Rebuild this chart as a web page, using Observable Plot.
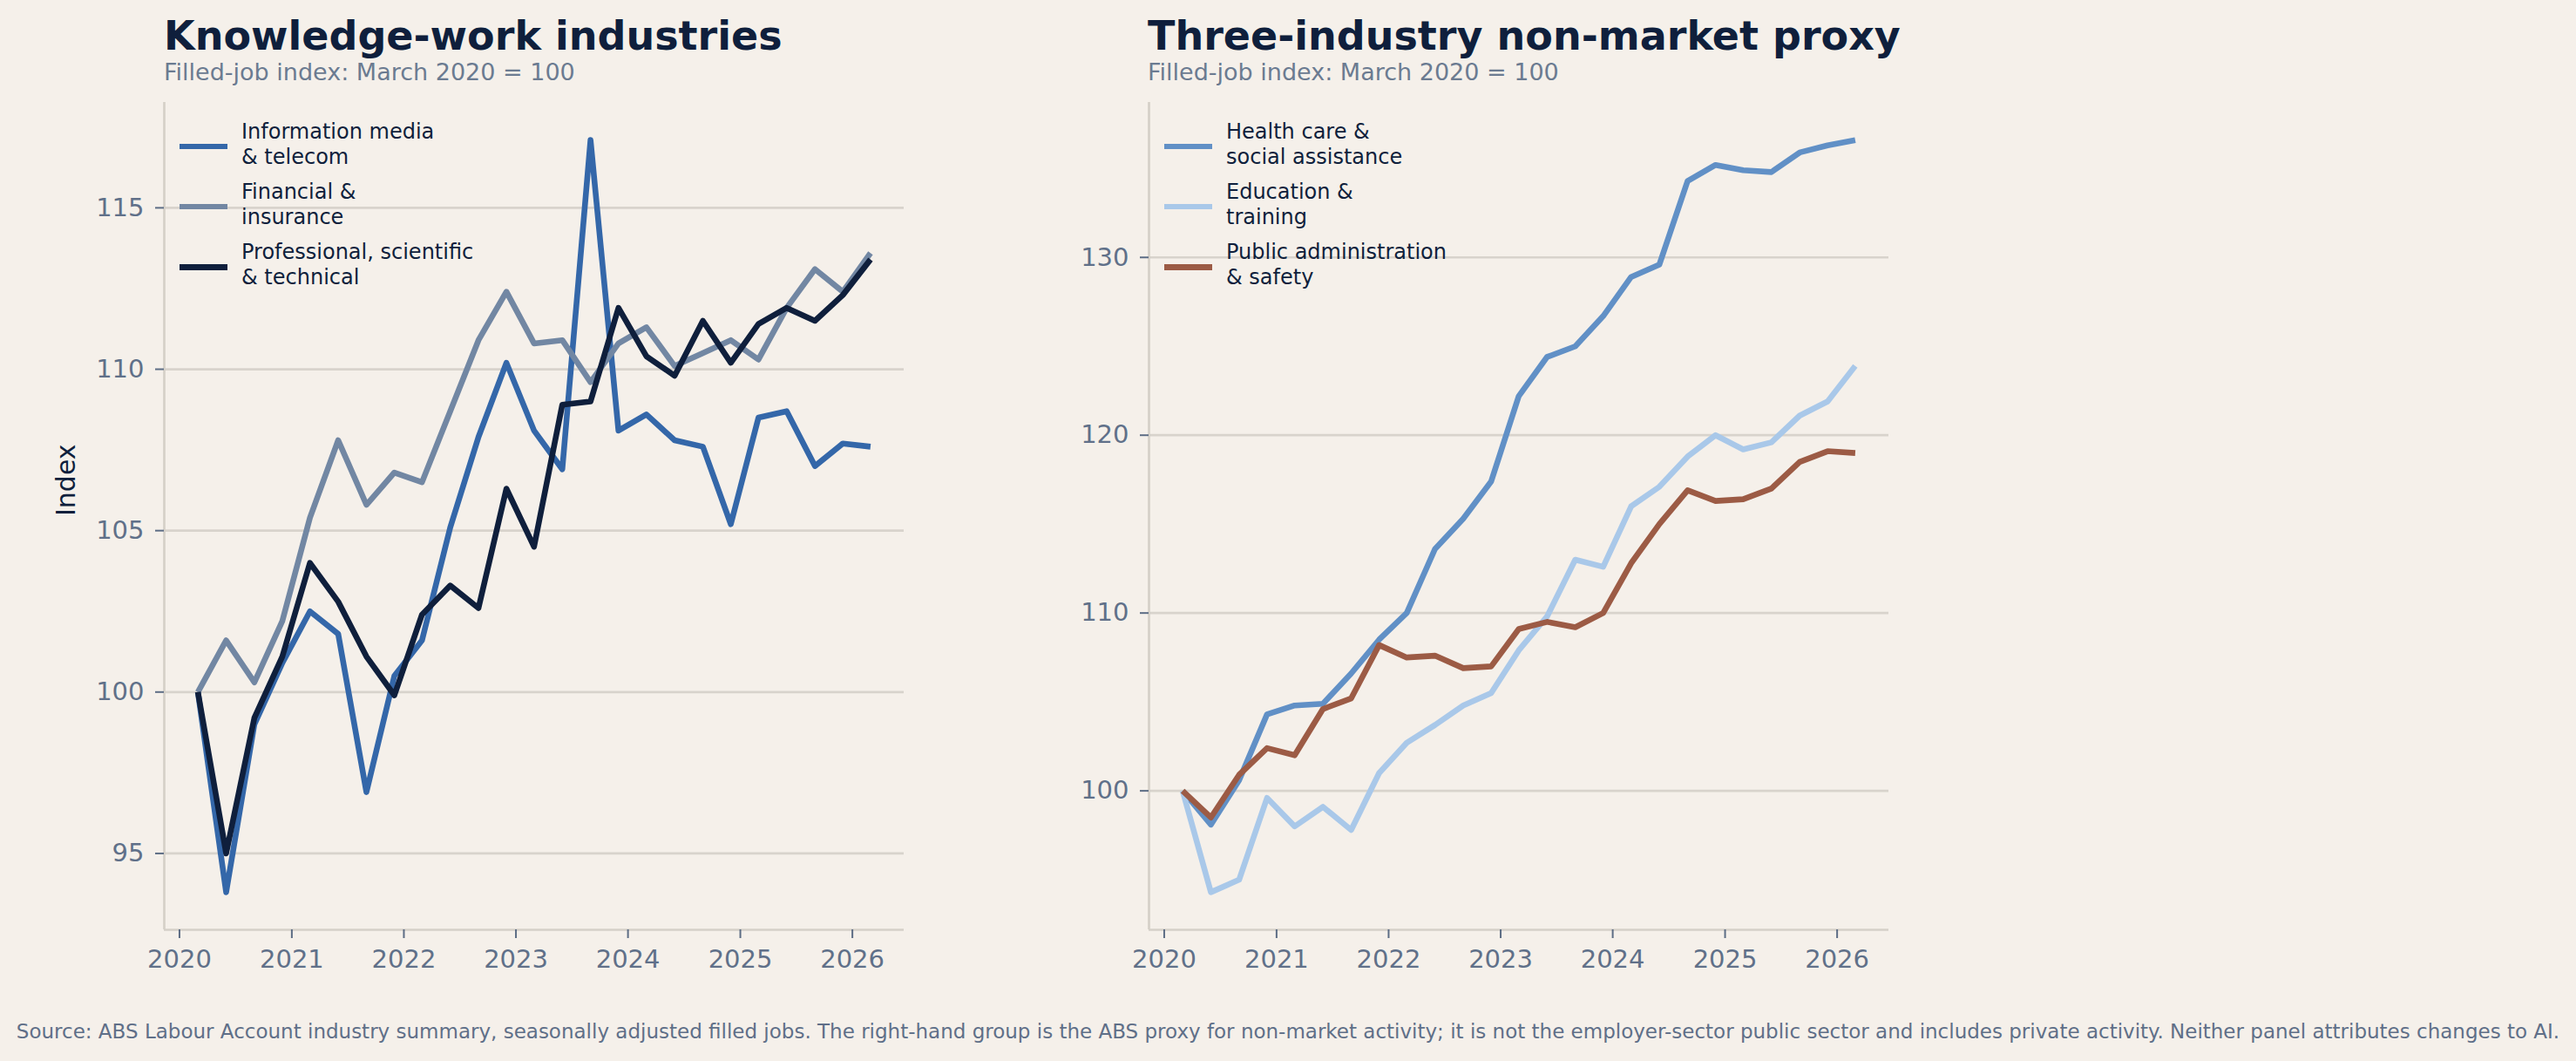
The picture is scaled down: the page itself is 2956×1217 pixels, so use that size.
<!DOCTYPE html>
<html>
<head>
<meta charset="utf-8">
<script src="https://cdn.jsdelivr.net/npm/d3@7"></script>
<script src="https://cdn.jsdelivr.net/npm/@observablehq/plot@0.6"></script>
<style>
  html, body { margin: 0; padding: 0; background: #f5f0ea; }
  #root { position: relative; width: 2956px; height: 1217px; background: #f5f0ea; overflow: hidden; font-family: "DejaVu Sans", sans-serif; }
  .title { position: absolute; font-weight: 700; font-size: 46px; color: #0f1f3c; white-space: nowrap; line-height: normal; }
  .subtitle { position: absolute; font-size: 27px; color: #6b7b91; white-space: nowrap; line-height: normal; }
  .caption { position: absolute; left: 0; width: 2956px; text-align: center; font-size: 23px; color: #5f6f88; white-space: nowrap; line-height: normal; }
  .panel { position: absolute; top: 100px; }
  .legend-swatch { position: absolute; width: 55px; height: 6.5px; }
  .legend-text { position: absolute; font-size: 24px; line-height: 29px; color: #0f1f3c; white-space: nowrap; }
</style>
</head>
<body>
<div id="root"></div>
<script>
// ---- data ----
const quarters = ["2020-03","2020-06","2020-09","2020-12","2021-03","2021-06","2021-09","2021-12",
  "2022-03","2022-06","2022-09","2022-12","2023-03","2023-06","2023-09","2023-12",
  "2024-03","2024-06","2024-09","2024-12","2025-03","2025-06","2025-09","2025-12","2026-03"];
const yearTicks = [2020, 2021, 2022, 2023, 2024, 2025, 2026];

const infoMedia    = [100, 93.8, 99.0, 100.9, 102.5, 101.8, 96.9, 100.5, 101.6, 105.1, 107.9, 110.2, 108.1, 106.9, 117.1, 108.1, 108.6, 107.8, 107.6, 105.2, 108.5, 108.7, 107.0, 107.7, 107.6];
const financial    = [100, 101.6, 100.3, 102.2, 105.4, 107.8, 105.8, 106.8, 106.5, 108.7, 110.9, 112.4, 110.8, 110.9, 109.6, 110.8, 111.3, 110.1, 110.5, 110.9, 110.3, 111.9, 113.1, 112.4, 113.6];
const professional = [100, 95.0, 99.2, 101.1, 104.0, 102.8, 101.1, 99.9, 102.4, 103.3, 102.6, 106.3, 104.5, 108.9, 109.0, 111.9, 110.4, 109.8, 111.5, 110.2, 111.4, 111.9, 111.5, 112.3, 113.4];

const health       = [100, 98.1, 100.6, 104.3, 104.8, 104.9, 106.6, 108.5, 110.0, 113.6, 115.3, 117.4, 122.2, 124.4, 125.0, 126.7, 128.9, 129.6, 134.3, 135.2, 134.9, 134.8, 135.9, 136.3, 136.6];
const education    = [100, 94.3, 95.0, 99.6, 98.0, 99.1, 97.8, 101.0, 102.7, 103.7, 104.8, 105.5, 107.9, 109.8, 113.0, 112.6, 116.0, 117.1, 118.8, 120.0, 119.2, 119.6, 121.1, 121.9, 123.9];
const publicAdmin  = [100, 98.5, 100.9, 102.4, 102.0, 104.6, 105.2, 108.2, 107.5, 107.6, 106.9, 107.0, 109.1, 109.5, 109.2, 110.0, 112.8, 115.0, 116.9, 116.3, 116.4, 117.0, 118.5, 119.1, 119.0];

const leftSeries = [
  {name: "Information media\n& telecom", values: infoMedia, color: "#3467a9"},
  {name: "Financial &\ninsurance", values: financial, color: "#7287a3"},
  {name: "Professional, scientific\n& technical", values: professional, color: "#0f1f3c"}
];
const rightSeries = [
  {name: "Health care &\nsocial assistance", values: health, color: "#6190c6"},
  {name: "Education &\ntraining", values: education, color: "#a9c8e9"},
  {name: "Public administration\n& safety", values: publicAdmin, color: "#9c5b45"}
];
const leftTicksY = [95, 100, 105, 110, 115];
const rightTicksY = [100, 110, 120, 130];

// ---- drawing ----
const root = document.getElementById("root");
const dates = quarters.map(q => new Date(q + "-01T00:00:00Z"));
const xTicks = yearTicks.map(y => new Date(Date.UTC(y, 0, 1)));

function panel(series, yTicks, yLabel) {
  const rows = series.flatMap(s => s.values.map((v, i) => ({date: dates[i], value: v, key: s.name})));
  const vals = rows.map(d => d.value);
  const lo = d3.min(vals), hi = d3.max(vals), pad = (hi - lo) * 0.05;
  const t0 = +dates[0], t1 = +dates[dates.length - 1], tp = (t1 - t0) * 0.05;
  const xMin = new Date(t0 - tp), xMax = new Date(t1 + tp);
  const marks = [
    Plot.gridY(yTicks, {stroke: "#d8d3cc", strokeOpacity: 1, strokeWidth: 2.7}),
    Plot.ruleX([xMin], {stroke: "#d5d0c8", strokeWidth: 2.7}),
    Plot.ruleY([lo - pad], {stroke: "#d5d0c8", strokeWidth: 2.7}),
    Plot.axisY(yTicks, {tickSize: 10, tickPadding: 13, stroke: "#5d6d85", strokeWidth: 2, fill: "#607089", label: null}),
    Plot.axisX(xTicks, {tickSize: 10, tickPadding: 13, stroke: "#5d6d85", strokeWidth: 2, fill: "#607089", tickFormat: d3.utcFormat("%Y"), label: null})
  ];
  if (yLabel) {
    marks.push(Plot.text([yLabel], {text: d => d, frameAnchor: "left", rotate: -90, dx: -112, fill: "#0f1f3c", fontSize: 30}));
  }
  for (const s of series) {
    marks.push(Plot.line(rows.filter(d => d.key === s.name), {x: "date", y: "value", stroke: s.color, strokeWidth: 6.6, strokeLinejoin: "round", strokeLinecap: "butt"}));
  }
  return Plot.plot({
    width: 1100, height: 1060,
    marginLeft: 188, marginRight: 63, marginTop: 17, marginBottom: 94,
    style: {background: "transparent", fontFamily: "DejaVu Sans", fontSize: "29px", color: "#607089", overflow: "visible"},
    x: {type: "utc", domain: [xMin, xMax]},
    y: {domain: [lo - pad, hi + pad]},
    marks
  });
}

function addText(cls, text, left, top) {
  const d = document.createElement("div");
  d.className = cls;
  d.textContent = text;
  d.style.left = left + "px";
  d.style.top = top + "px";
  root.appendChild(d);
  return d;
}

function addLegend(series, offset) {
  series.forEach((s, i) => {
    const top = 136.5 + i * 69.2;
    const sw = document.createElement("div");
    sw.className = "legend-swatch";
    sw.style.background = s.color;
    sw.style.left = (offset + 206) + "px";
    sw.style.top = (top + 31.5 - 3.25) + "px";
    root.appendChild(sw);
    const tx = document.createElement("div");
    tx.className = "legend-text";
    tx.style.left = (offset + 277) + "px";
    tx.style.top = top + "px";
    tx.innerHTML = s.name.split("\n").map(t => t.replace(/&/g, "&amp;")).join("<br>");
    root.appendChild(tx);
  });
}

const p1 = panel(leftSeries, leftTicksY, "Index");
p1.classList.add("panel"); p1.style.left = "0px"; p1.style.position = "absolute"; p1.style.top = "100px";
root.appendChild(p1);
const p2 = panel(rightSeries, rightTicksY, null);
p2.classList.add("panel"); p2.style.left = "1130px"; p2.style.position = "absolute"; p2.style.top = "100px";
root.appendChild(p2);

addText("title", "Knowledge-work industries", 188, 14);
addText("subtitle", "Filled-job index: March 2020 = 100", 188, 66.5);
addText("title", "Three-industry non-market proxy", 1317, 14);
addText("subtitle", "Filled-job index: March 2020 = 100", 1317, 66.5);
addLegend(leftSeries, 0);
addLegend(rightSeries, 1130);
addText("caption", "Source: ABS Labour Account industry summary, seasonally adjusted filled jobs. The right-hand group is the ABS proxy for non-market activity; it is not the employer-sector public sector and includes private activity. Neither panel attributes changes to AI.", 0, 1169.5);
</script>
</body>
</html>
